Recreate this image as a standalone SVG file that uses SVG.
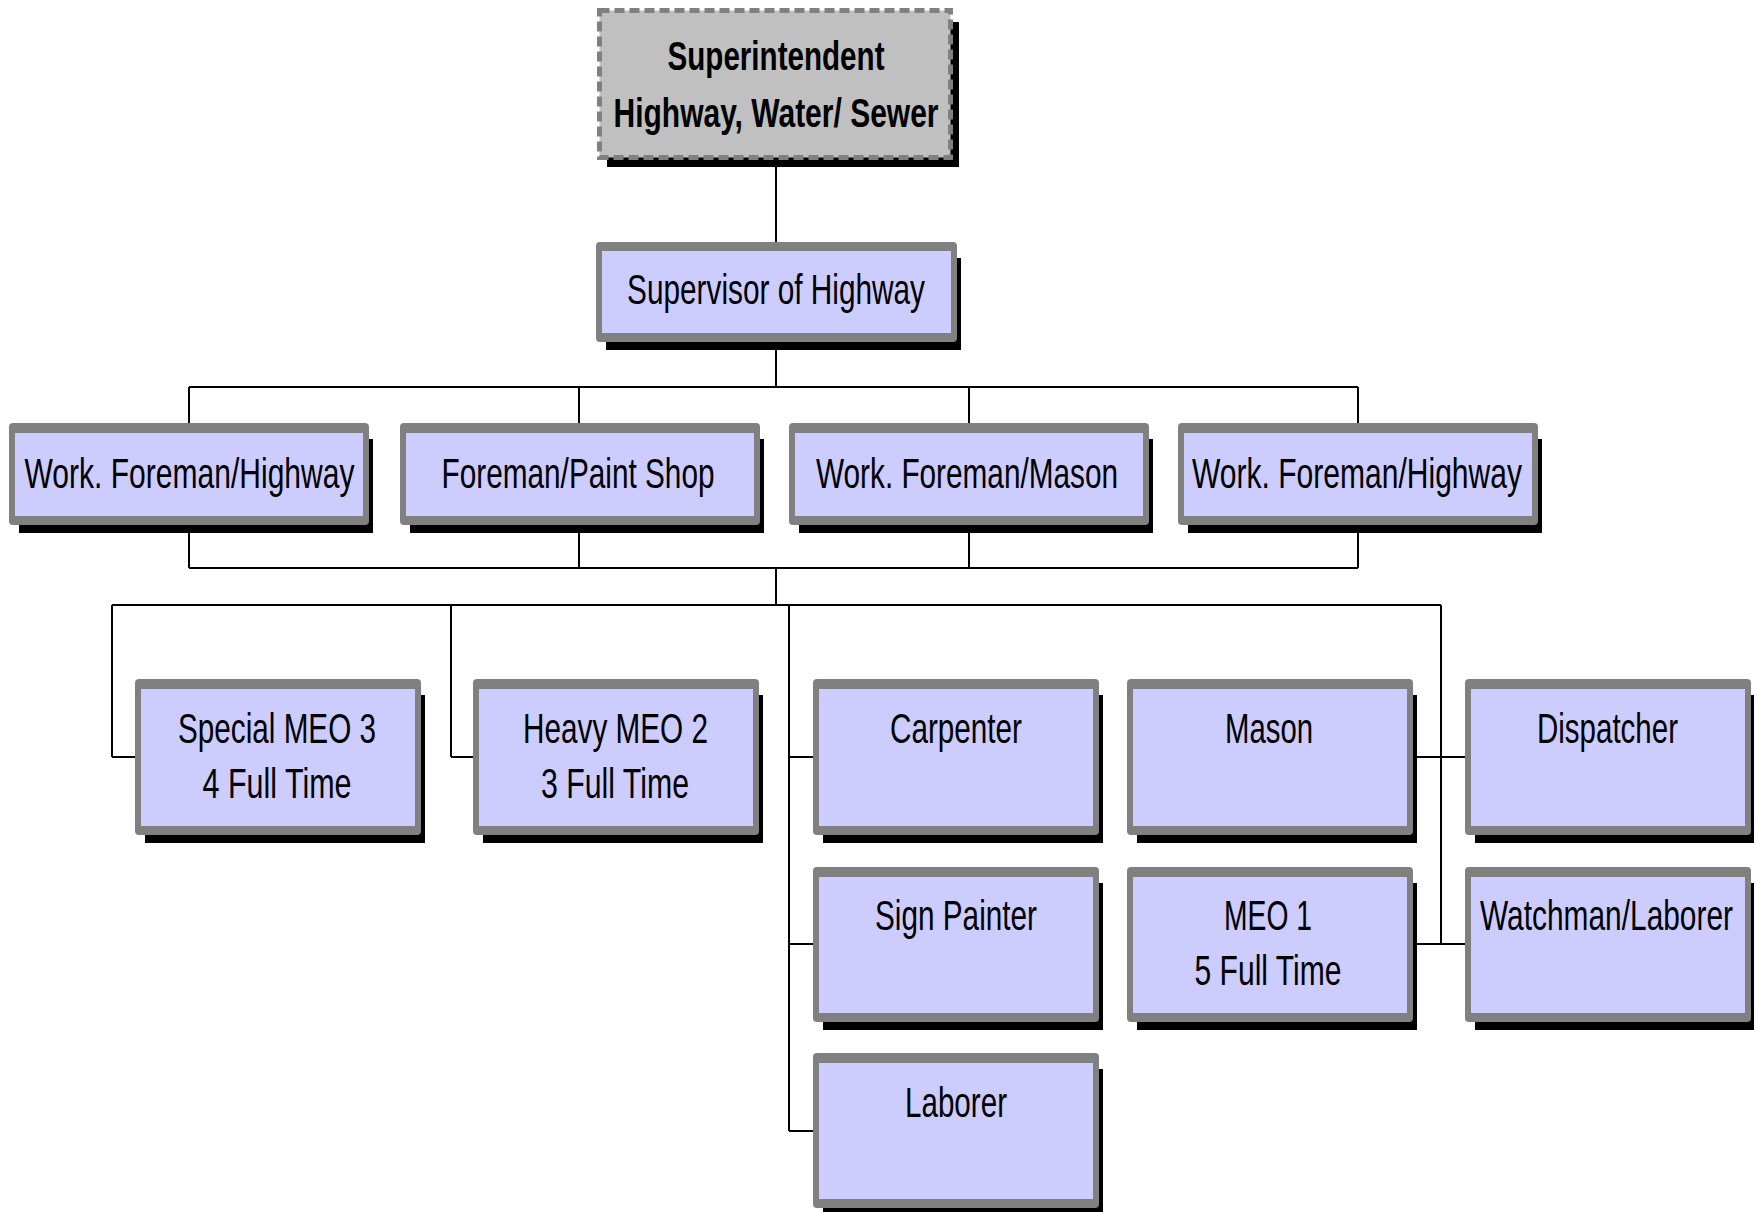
<svg xmlns="http://www.w3.org/2000/svg" width="1754" height="1212" viewBox="0 0 1754 1212">
<style>
.bg{fill:#ffffff}
.shadow{fill:#000000}
.frame{fill:#808080}
.inner{fill:#ccccff}
.conn line{stroke:#000000;stroke-width:2;fill:none}
.t{font-family:"Liberation Sans",Arial,sans-serif;font-size:43px;fill:#000000;text-anchor:middle}
.tb{font-family:"Liberation Sans",Arial,sans-serif;font-size:41px;font-weight:bold;fill:#000000;text-anchor:middle}
.dash{fill:#c0c0c0;stroke:#808080;stroke-width:5;stroke-dasharray:10 5}
</style>
<rect class="bg" x="0" y="0" width="1754" height="1212"/>

<g id="connectors" class="conn">
  <line x1="776" y1="160" x2="776" y2="242"/>
  <line x1="776" y1="342" x2="776" y2="387"/>
  <line x1="189" y1="387" x2="1358" y2="387"/>
  <line x1="189" y1="387" x2="189" y2="423"/>
  <line x1="579" y1="387" x2="579" y2="423"/>
  <line x1="969" y1="387" x2="969" y2="423"/>
  <line x1="1358" y1="387" x2="1358" y2="423"/>
  <line x1="189" y1="525" x2="189" y2="568"/>
  <line x1="579" y1="525" x2="579" y2="568"/>
  <line x1="969" y1="525" x2="969" y2="568"/>
  <line x1="1358" y1="525" x2="1358" y2="568"/>
  <line x1="189" y1="568" x2="1358" y2="568"/>
  <line x1="776" y1="568" x2="776" y2="605"/>
  <line x1="112" y1="605" x2="1441" y2="605"/>
  <line x1="112" y1="605" x2="112" y2="757"/>
  <line x1="112" y1="757" x2="135" y2="757"/>
  <line x1="451" y1="605" x2="451" y2="757"/>
  <line x1="451" y1="757" x2="473" y2="757"/>
  <line x1="789" y1="605" x2="789" y2="1131"/>
  <line x1="789" y1="757" x2="813" y2="757"/>
  <line x1="789" y1="944" x2="813" y2="944"/>
  <line x1="789" y1="1131" x2="813" y2="1131"/>
  <line x1="1441" y1="605" x2="1441" y2="944"/>
  <line x1="1412" y1="757" x2="1465" y2="757"/>
  <line x1="1412" y1="944" x2="1465" y2="944"/>
</g>

<g id="superintendent">
  <rect class="shadow" x="607" y="22" width="352" height="145"/>
  <rect class="dash" x="599.5" y="10.5" width="351" height="147"/>
  <text class="tb" transform="translate(776 70) scale(0.72 1)" textLength="301.4" lengthAdjust="spacingAndGlyphs">Superintendent</text>
  <text class="tb" transform="translate(776 127) scale(0.72 1)" textLength="451.4" lengthAdjust="spacingAndGlyphs">Highway, Water/ Sewer</text>
</g>

<g id="supervisor">
  <rect class="shadow" x="606" y="258" width="355" height="92"/>
  <rect class="frame" x="596" y="242" width="361" height="100" rx="4"/>
  <rect class="inner" x="602" y="251" width="349" height="82"/>
  <text class="t" transform="translate(776 304) scale(0.7 1)" textLength="425.7" lengthAdjust="spacingAndGlyphs">Supervisor of Highway</text>
</g>

<g id="foreman-highway-1">
  <rect class="shadow" x="19" y="439" width="354" height="94"/>
  <rect class="frame" x="9" y="423" width="360" height="102" rx="4"/>
  <rect class="inner" x="15" y="433" width="348" height="83"/>
  <text class="t" transform="translate(189.5 488) scale(0.7 1)" textLength="471.4" lengthAdjust="spacingAndGlyphs">Work. Foreman/Highway</text>
</g>

<g id="foreman-paint">
  <rect class="shadow" x="410" y="439" width="354" height="94"/>
  <rect class="frame" x="400" y="423" width="360" height="102" rx="4"/>
  <rect class="inner" x="406" y="433" width="348" height="83"/>
  <text class="t" transform="translate(578 488) scale(0.7 1)" textLength="390" lengthAdjust="spacingAndGlyphs">Foreman/Paint Shop</text>
</g>

<g id="foreman-mason">
  <rect class="shadow" x="799" y="439" width="354" height="94"/>
  <rect class="frame" x="789" y="423" width="360" height="102" rx="4"/>
  <rect class="inner" x="795" y="433" width="348" height="83"/>
  <text class="t" transform="translate(967 488) scale(0.7 1)" textLength="431.4" lengthAdjust="spacingAndGlyphs">Work. Foreman/Mason</text>
</g>

<g id="foreman-highway-2">
  <rect class="shadow" x="1188" y="439" width="354" height="94"/>
  <rect class="frame" x="1178" y="423" width="360" height="102" rx="4"/>
  <rect class="inner" x="1184" y="433" width="348" height="83"/>
  <text class="t" transform="translate(1357 488) scale(0.7 1)" textLength="471.4" lengthAdjust="spacingAndGlyphs">Work. Foreman/Highway</text>
</g>

<g id="special-meo3">
  <rect class="shadow" x="145" y="695" width="280" height="148"/>
  <rect class="frame" x="135" y="679" width="286" height="156" rx="4"/>
  <rect class="inner" x="141" y="689" width="274" height="137"/>
  <text class="t" transform="translate(277 743) scale(0.7 1)" textLength="282.9" lengthAdjust="spacingAndGlyphs">Special MEO 3</text>
  <text class="t" transform="translate(277 798) scale(0.7 1)" textLength="212.9" lengthAdjust="spacingAndGlyphs">4 Full Time</text>
</g>

<g id="heavy-meo2">
  <rect class="shadow" x="483" y="695" width="280" height="148"/>
  <rect class="frame" x="473" y="679" width="286" height="156" rx="4"/>
  <rect class="inner" x="479" y="689" width="274" height="137"/>
  <text class="t" transform="translate(615.5 743) scale(0.7 1)" textLength="264.3" lengthAdjust="spacingAndGlyphs">Heavy MEO 2</text>
  <text class="t" transform="translate(615 798) scale(0.7 1)" textLength="211.4" lengthAdjust="spacingAndGlyphs">3 Full Time</text>
</g>

<g id="carpenter">
  <rect class="shadow" x="823" y="695" width="280" height="148"/>
  <rect class="frame" x="813" y="679" width="286" height="156" rx="4"/>
  <rect class="inner" x="819" y="689" width="274" height="137"/>
  <text class="t" transform="translate(956 743) scale(0.7 1)" textLength="188.6" lengthAdjust="spacingAndGlyphs">Carpenter</text>
</g>

<g id="mason">
  <rect class="shadow" x="1137" y="695" width="280" height="148"/>
  <rect class="frame" x="1127" y="679" width="286" height="156" rx="4"/>
  <rect class="inner" x="1133" y="689" width="274" height="137"/>
  <text class="t" transform="translate(1269 743) scale(0.7 1)" textLength="125.7" lengthAdjust="spacingAndGlyphs">Mason</text>
</g>

<g id="dispatcher">
  <rect class="shadow" x="1475" y="695" width="280" height="148"/>
  <rect class="frame" x="1465" y="679" width="286" height="156" rx="4"/>
  <rect class="inner" x="1471" y="689" width="274" height="137"/>
  <text class="t" transform="translate(1607.5 743) scale(0.7 1)" textLength="201.4" lengthAdjust="spacingAndGlyphs">Dispatcher</text>
</g>

<g id="sign-painter">
  <rect class="shadow" x="823" y="883" width="280" height="147"/>
  <rect class="frame" x="813" y="867" width="286" height="155" rx="4"/>
  <rect class="inner" x="819" y="877" width="274" height="136"/>
  <text class="t" transform="translate(956 930) scale(0.7 1)" textLength="231.4" lengthAdjust="spacingAndGlyphs">Sign Painter</text>
</g>

<g id="meo1">
  <rect class="shadow" x="1137" y="883" width="280" height="147"/>
  <rect class="frame" x="1127" y="867" width="286" height="155" rx="4"/>
  <rect class="inner" x="1133" y="877" width="274" height="136"/>
  <text class="t" transform="translate(1268 930) scale(0.7 1)" textLength="125.7" lengthAdjust="spacingAndGlyphs">MEO 1</text>
  <text class="t" transform="translate(1268 985) scale(0.7 1)" textLength="210" lengthAdjust="spacingAndGlyphs">5 Full Time</text>
</g>

<g id="watchman-laborer">
  <rect class="shadow" x="1475" y="883" width="280" height="147"/>
  <rect class="frame" x="1465" y="867" width="286" height="155" rx="4"/>
  <rect class="inner" x="1471" y="877" width="274" height="136"/>
  <text class="t" transform="translate(1606.5 930) scale(0.7 1)" textLength="361.4" lengthAdjust="spacingAndGlyphs">Watchman/Laborer</text>
</g>

<g id="laborer">
  <rect class="shadow" x="823" y="1069" width="280" height="147"/>
  <rect class="frame" x="813" y="1053" width="286" height="155" rx="4"/>
  <rect class="inner" x="819" y="1063" width="274" height="136"/>
  <text class="t" transform="translate(956 1117) scale(0.7 1)" textLength="145.7" lengthAdjust="spacingAndGlyphs">Laborer</text>
</g>
</svg>
